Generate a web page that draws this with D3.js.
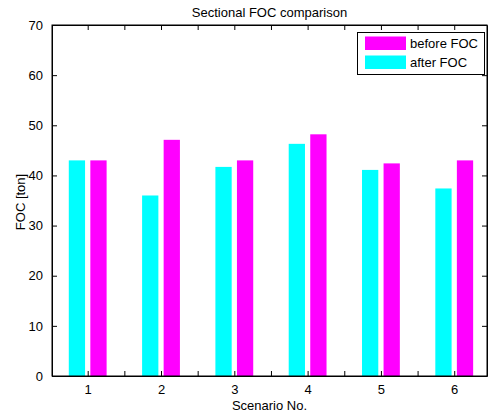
<!DOCTYPE html>
<html>
<head>
<meta charset="utf-8">
<script src="https://cdn.jsdelivr.net/npm/d3@7"></script>
<style>
  body { margin: 0; background: #fff; }
  text { font-family: "Liberation Sans", Arial, sans-serif; }
</style>
</head>
<body>
<div id="graph1"></div>
<script>
// data
var scenarios = [1, 2, 3, 4, 5, 6]
var afterFOC = [43.0, 36.0, 41.7, 46.3, 41.1, 37.4]
var beforeFOC = [43.0, 47.1, 43.0, 48.2, 42.4, 43.0]
var yTicks = [0, 10, 20, 30, 40, 50, 60, 70]
var xTicks = [1, 1.5, 2, 2.5, 3, 3.5, 4, 4.5, 5, 5.5, 6]

var width = 488,
    height = 417,
    pLeft = 52, pRight = 487, pTop = 25, pBottom = 376

var svg = d3.select("#graph1")
  .append("svg")
    .attr("width", width)
    .attr("height", height)

var x = d3.scaleLinear().domain([0.513, 6.447]).range([pLeft, pRight])
var y = d3.scaleLinear().domain([0, 70]).range([pBottom, pTop])

var cyan = "#00ffff", magenta = "#ff00ff"
var off = 0.147, bw = 0.222

// bars
svg.selectAll("rect.after")
  .data(scenarios)
  .enter().append("rect")
    .attr("class", "after")
    .attr("x", (d, i) => x(d - off - bw / 2))
    .attr("width", x(bw) - x(0))
    .attr("y", (d, i) => y(afterFOC[i]))
    .attr("height", (d, i) => y(0) - y(afterFOC[i]))
    .attr("fill", cyan)

svg.selectAll("rect.before")
  .data(scenarios)
  .enter().append("rect")
    .attr("class", "before")
    .attr("x", (d, i) => x(d + off - bw / 2))
    .attr("width", x(bw) - x(0))
    .attr("y", (d, i) => y(beforeFOC[i]))
    .attr("height", (d, i) => y(0) - y(beforeFOC[i]))
    .attr("fill", magenta)

// axes with inward ticks on all four sides
var fmtX = d => Number.isInteger(d) ? d : ""
svg.append("g")
  .attr("transform", "translate(0," + pBottom + ")")
  .call(d3.axisBottom(x).tickValues(xTicks).tickFormat(fmtX).tickSizeInner(-5).tickSizeOuter(0).tickPadding(9))
svg.append("g")
  .attr("transform", "translate(0," + pTop + ")")
  .call(d3.axisTop(x).tickValues(xTicks).tickFormat("").tickSizeInner(-5).tickSizeOuter(0))
svg.append("g")
  .attr("transform", "translate(" + pLeft + ",0)")
  .call(d3.axisLeft(y).tickValues(yTicks).tickSizeInner(-5).tickSizeOuter(0).tickPadding(9))
svg.append("g")
  .attr("transform", "translate(" + pRight + ",0)")
  .call(d3.axisRight(y).tickValues(yTicks).tickFormat("").tickSizeInner(-5).tickSizeOuter(0))

svg.selectAll(".tick text").attr("font-size", 13).attr("fill", "#000")
svg.selectAll(".domain, .tick line").attr("stroke", "#000")

// box
svg.append("rect")
  .attr("x", pLeft).attr("y", pTop)
  .attr("width", pRight - pLeft).attr("height", pBottom - pTop)
  .attr("fill", "none").attr("stroke", "#000")

// titles
svg.append("text")
  .attr("x", (pLeft + pRight) / 2).attr("y", 17)
  .attr("text-anchor", "middle").attr("font-size", 13)
  .text("Sectional FOC comparison")
svg.append("text")
  .attr("x", (pLeft + pRight) / 2).attr("y", 410)
  .attr("text-anchor", "middle").attr("font-size", 13)
  .text("Scenario No.")
svg.append("text")
  .attr("transform", "translate(25,202) rotate(-90)")
  .attr("text-anchor", "middle").attr("font-size", 13)
  .text("FOC [ton]")

// legend
var legend = svg.append("g")
legend.append("rect")
  .attr("x", 357.5).attr("y", 32.5).attr("width", 127).attr("height", 42)
  .attr("fill", "#fff").attr("stroke", "#000")
var items = [{name: "before FOC", color: magenta}, {name: "after FOC", color: cyan}]
legend.selectAll("rect.sw")
  .data(items).enter().append("rect")
    .attr("class", "sw")
    .attr("x", 365).attr("y", (d, i) => 36.5 + i * 19)
    .attr("width", 41).attr("height", 13.5)
    .attr("fill", d => d.color)
legend.selectAll("text.lab")
  .data(items).enter().append("text")
    .attr("class", "lab")
    .attr("x", 410).attr("y", (d, i) => 48 + i * 19)
    .attr("font-size", 13)
    .text(d => d.name)
</script>
</body>
</html>
